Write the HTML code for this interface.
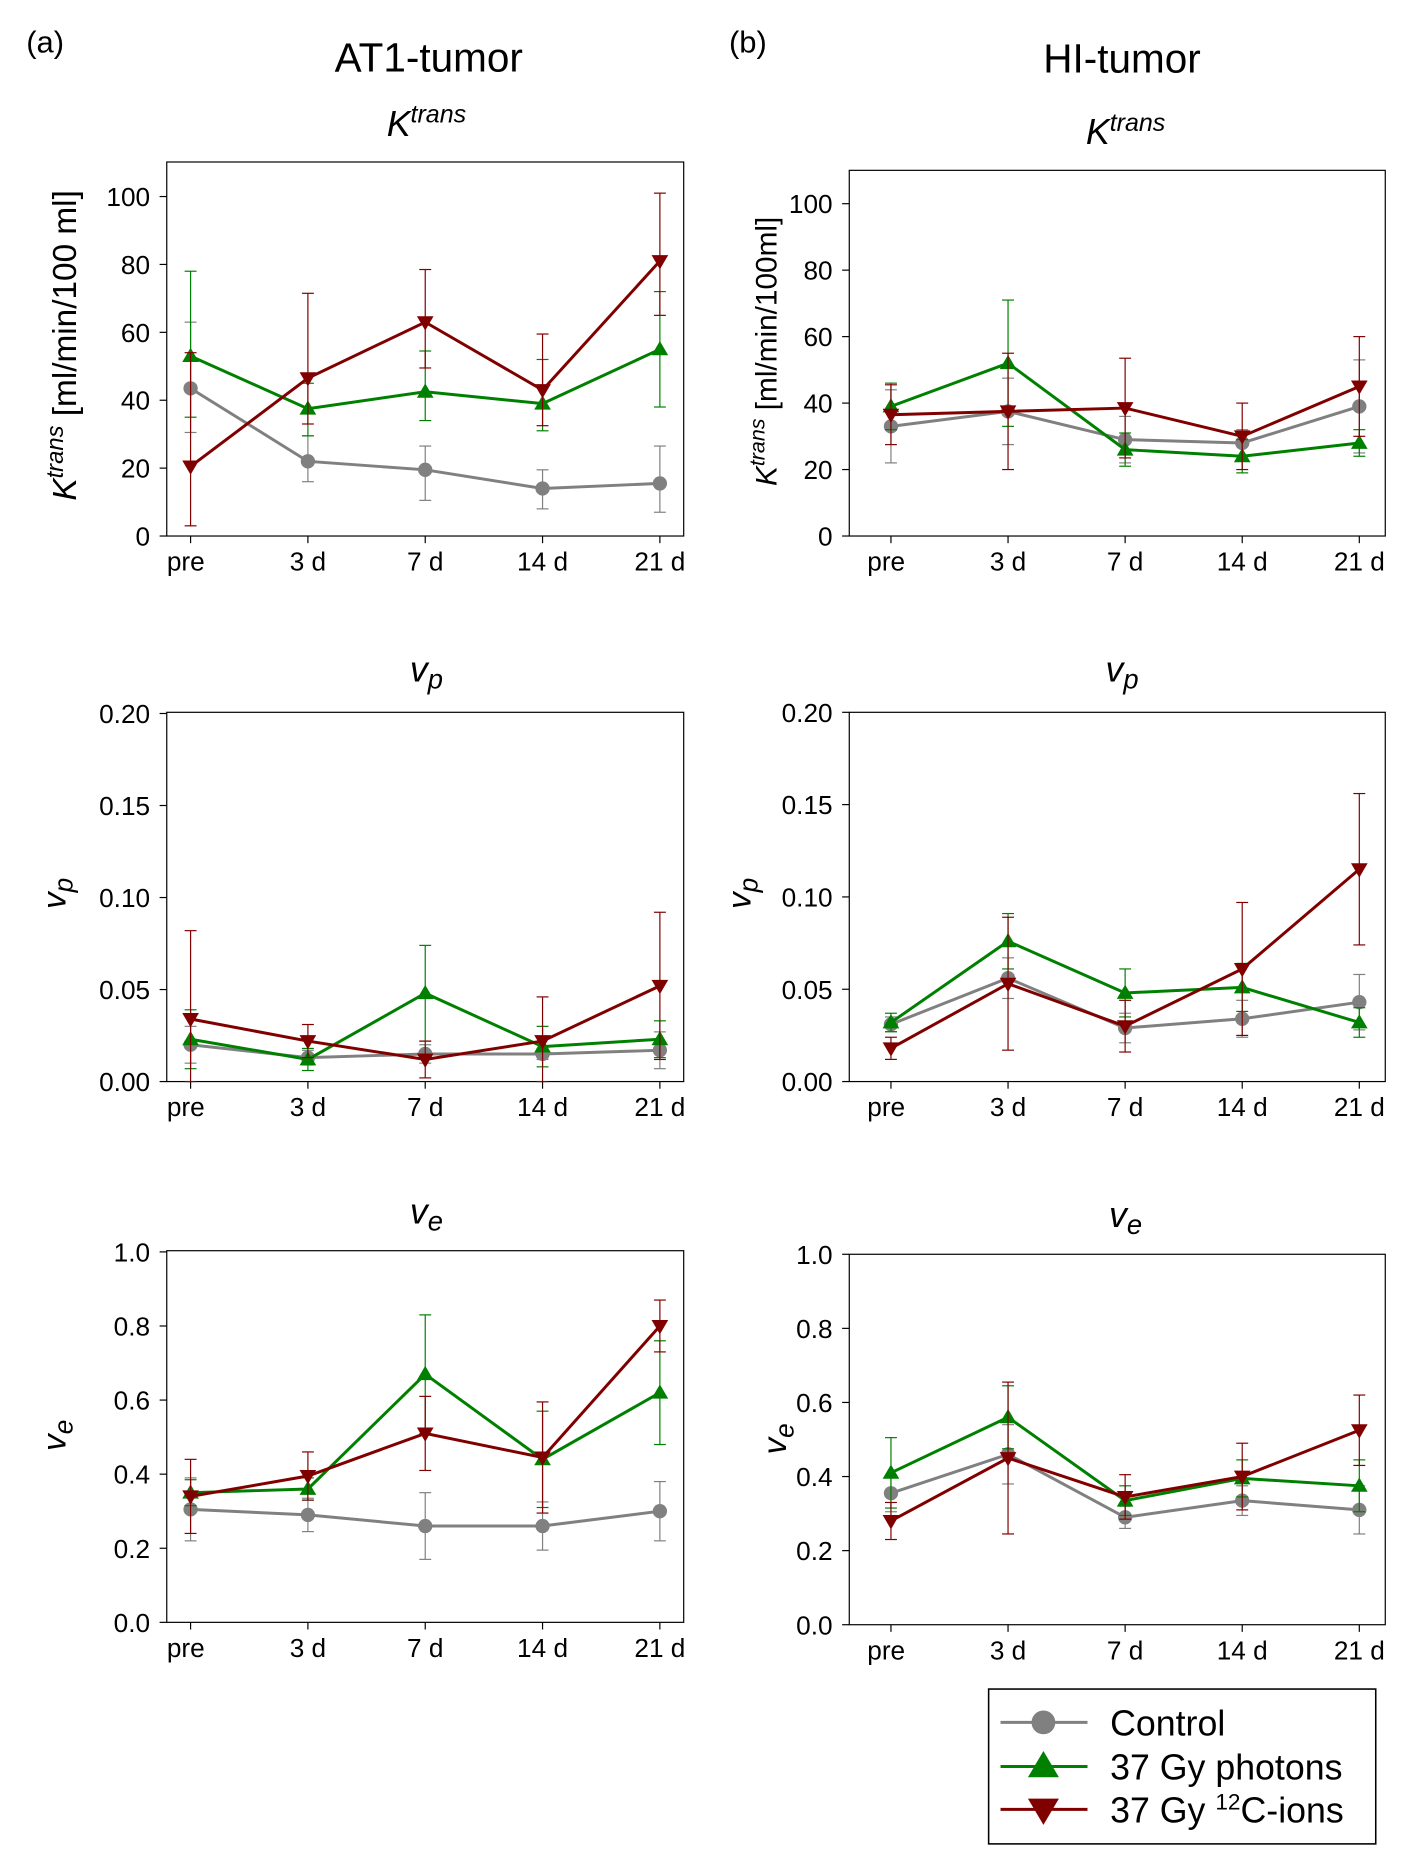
<!DOCTYPE html>
<html><head><meta charset="utf-8"><style>
html,body{margin:0;padding:0;background:#fff;}
svg{display:block;font-family:"Liberation Sans",Arial,sans-serif;}
</style></head><body>
<svg id="fig" width="1411" height="1862" viewBox="0 0 1184.6 1563.2" preserveAspectRatio="none" xmlns="http://www.w3.org/2000/svg">
<text x="22" y="44" font-size="26">(a)</text>
<text x="360" y="60" font-size="34" text-anchor="middle">AT1-tumor</text>
<text x="612" y="44" font-size="26">(b)</text>
<text x="942" y="61" font-size="34" text-anchor="middle">HI-tumor</text>
<g id="plots"></g>
<g>
<rect x="830" y="1418" width="325" height="130" fill="#fff" stroke="#000" stroke-width="1.3"/>
<line x1="840" y1="1446" x2="913" y2="1446" stroke="#808080" stroke-width="2.5"/>
<circle cx="876" cy="1446" r="10" fill="#808080"/>
<text x="932" y="1457" font-size="30">Control</text>
<line x1="840" y1="1483" x2="913" y2="1483" stroke="#008000" stroke-width="2.5"/>
<polygon points="876,1470 889,1492 863,1492" fill="#008000"/>
<text x="932" y="1494" font-size="30">37 Gy photons</text>
<line x1="840" y1="1519" x2="913" y2="1519" stroke="#800000" stroke-width="2.5"/>
<polygon points="863,1510 889,1510 876,1532" fill="#800000"/>
<text x="932" y="1530" font-size="30">37 Gy <tspan font-size="19" dy="-11">12</tspan><tspan dy="11">C-ions</tspan></text>
</g>
</svg>
<script>
const categories=["pre","3 d","7 d","14 d","21 d"];
const seriesNames=["control","photons","carbon"];
// AT1 Ktrans
const a1Control=[43.5,22,19.5,14,15.5], a1ControlLo=[30.5,16,10.5,8,7], a1ControlHi=[63,29.5,26.5,19.5,26.5];
const a1Photons=[53,37.5,42.5,39,55], a1PhotonsLo=[35,29.5,34,31,38], a1PhotonsHi=[78,45,54.5,52,72];
const a1Carbon=[20.5,46.5,63,43,81], a1CarbonLo=[3,33,49.5,32.5,65], a1CarbonHi=[54,71.5,78.5,59.5,101];
// HI Ktrans
const b1Control=[33,37.5,29,28,39], b1ControlErr=[11,10,7,4,14];
const b1Photons=[39,52,26,24,28], b1PhotonsErr=[7,19,5,5,4];
const b1Carbon=[36.5,37.5,38.5,30,45], b1CarbonErr=[9,17.5,15,10,15];
// AT1 vp
const a2Control=[0.020,0.013,0.015,0.015,0.017], a2ControlErr=[0.01,0.004,0.005,0.003,0.01];
const a2Photons=[0.023,0.012,0.048,0.019,0.023], a2PhotonsErr=[0.016,0.006,0.026,0.011,0.01];
const a2Carbon=[0.034,0.022,0.012,0.022,0.052], a2CarbonErr=[0.048,0.009,0.01,0.024,0.04];
// HI vp
const b2Control=[0.031,0.056,0.029,0.034,0.043], b2ControlErr=[0.004,0.011,0.008,0.01,0.015];
const b2Photons=[0.032,0.076,0.048,0.051,0.032], b2PhotonsErr=[0.005,0.015,0.013,0.013,0.008];
const b2Carbon=[0.018,0.053,0.030,0.061,0.115], b2CarbonErr=[0.006,0.036,0.014,0.036,0.041];
// AT1 ve
const a3Control=[0.305,0.29,0.26,0.26,0.30], a3ControlErr=[0.085,0.045,0.09,0.065,0.08];
const a3Photons=[0.35,0.36,0.67,0.44,0.62], a3PhotonsErr=[0.035,0.03,0.16,0.13,0.14];
const a3Carbon=[0.34,0.395,0.51,0.445,0.80], a3CarbonErr=[0.10,0.065,0.10,0.15,0.07];
// HI ve
const b3Control=[0.355,0.46,0.29,0.335,0.31], b3ControlErr=[0.05,0.08,0.03,0.04,0.065];
const b3Photons=[0.41,0.56,0.335,0.395,0.375], b3PhotonsErr=[0.095,0.085,0.04,0.05,0.07];
const b3Carbon=[0.28,0.45,0.345,0.40,0.525], b3CarbonErr=[0.05,0.205,0.06,0.09,0.095];
const ktTicks=["0","20","40","60","80","100"], vpTicks=["0.00","0.05","0.10","0.15","0.20"], veTicks=["0.0","0.2","0.4","0.6","0.8","1.0"];

const NS="http://www.w3.org/2000/svg";
const root=document.getElementById('plots');
function mk(tag,attrs,parent){const e=document.createElementNS(NS,tag);for(const k in attrs)e.setAttribute(k,attrs[k]);(parent||root).appendChild(e);return e;}
function lohi(v,e){return [v.map((x,i)=>x-e[i]),v.map((x,i)=>x+e[i])];}
const colors={control:"#808080",photons:"#008000",carbon:"#800000"};

function panel(p){
  const g=mk('g',{});
  
  
  const yS=v=>p.y0-(Math.max(v,p.min)-p.min)/(p.max-p.min)*(p.y0-p.y1);
  const xS=i=>p.xs+i*p.dx;
  const box=mk('rect',{x:p.L,y:p.T,width:p.R-p.L,height:p.y0-p.T,fill:'none',stroke:'#000','stroke-width':1},g);
  
  
  p.ticks.forEach((t,i)=>{
    const v=p.min+i*(p.max-p.min)/(p.ticks.length-1);
    const y=yS(v);
    mk('line',{x1:p.L-6,y1:y,x2:p.L,y2:y,stroke:'#000','stroke-width':1},g);
    const tx=mk('text',{x:p.L-14,y:y+8,'font-size':22,'text-anchor':'end'},g);
    tx.textContent=t;
    
    
  });
  categories.forEach((c,i)=>{
    const x=xS(i);
    mk('line',{x1:x,y1:p.y0,x2:x,y2:p.y0+6,stroke:'#000','stroke-width':1},g);
    const tx=mk('text',{x:x-(i===0?4:0),y:p.y0+29,'font-size':22,'text-anchor':'middle'},g);
    tx.textContent=c;
    
    
  });
  const tt=mk('text',{x:p.tx,y:p.ty,'font-size':30,'text-anchor':'middle','font-style':'italic'},g);
  tt.innerHTML=p.title;
  
  
  const yt=mk('text',{x:0,y:0,'font-size':p.ytSize||28,'text-anchor':'middle',transform:`translate(${p.ytx},${p.yty}) rotate(-90)`},g);
  yt.innerHTML=p.ytitle;
  
  
  p.series.forEach(s=>{
    const col=colors[s.k];
    const sg=mk('g',{},g);
    
    
    s.v.forEach((v,i)=>{
      const x=xS(i),a=yS(s.lo[i]),b=yS(s.hi[i]);
      mk('line',{x1:x,y1:a,x2:x,y2:b,stroke:col,'stroke-width':1},sg);
      mk('line',{x1:x-5,y1:a,x2:x+5,y2:a,stroke:col,'stroke-width':1},sg);
      mk('line',{x1:x-5,y1:b,x2:x+5,y2:b,stroke:col,'stroke-width':1},sg);
    });
    const ln=mk('polyline',{points:s.v.map((v,i)=>xS(i)+','+yS(v)).join(' '),fill:'none',stroke:col,'stroke-width':2.5},sg);
    
    
    s.v.forEach((v,i)=>{
      const x=xS(i),y=yS(v);let m;
      if(s.k==='control') m=mk('circle',{cx:x,cy:y,r:6,fill:col},sg);
      else if(s.k==='photons') m=mk('polygon',{points:`${x},${y-7} ${x+7},${y+5} ${x-7},${y+5}`,fill:col},sg);
      else m=mk('polygon',{points:`${x-7},${y-5} ${x+7},${y-5} ${x},${y+7}`,fill:col},sg);
      
      
    });
  });
}
const kt='K<tspan font-size="21" dy="-11">trans</tspan>';
const A={L:140,R:574,xs:160,dx:98.5}, B={L:713,R:1163,xs:748,dx:98.3};
function S(k,v,lo,hi){return {k,v,lo,hi};}
panel(Object.assign({},A,{name:'at1-ktrans-chart',T:136,y0:450,y1:165,min:0,max:100,ticks:ktTicks,title:kt,tx:358,ty:114,
  ytitle:'<tspan font-style="italic">K<tspan font-size="20" dy="-11">trans</tspan></tspan><tspan dy="11"> [ml/min/100 ml]</tspan>',ytx:64,yty:290,
  series:[S('control',a1Control,a1ControlLo,a1ControlHi),S('photons',a1Photons,a1PhotonsLo,a1PhotonsHi),S('carbon',a1Carbon,a1CarbonLo,a1CarbonHi)]}));
panel(Object.assign({},B,{name:'hi-ktrans-chart',T:143,y0:450,y1:171,min:0,max:100,ticks:ktTicks,title:kt,tx:945,ty:121,ytSize:25,
  ytitle:'<tspan font-style="italic">K<tspan font-size="18" dy="-10">trans</tspan></tspan><tspan dy="10"> [ml/min/100ml]</tspan>',ytx:652,yty:295,
  series:[S('control',b1Control,...lohi(b1Control,b1ControlErr)),S('photons',b1Photons,...lohi(b1Photons,b1PhotonsErr)),S('carbon',b1Carbon,...lohi(b1Carbon,b1CarbonErr))]}));
panel(Object.assign({},A,{name:'at1-vp-chart',T:598,y0:908,y1:599,min:0,max:0.2,ticks:vpTicks,title:'v<tspan font-size="23" dy="6">p</tspan>',tx:358,ty:572,
  ytitle:'<tspan font-style="italic">v<tspan font-size="22" dy="6">p</tspan></tspan>',ytx:55,yty:750,
  series:[S('control',a2Control,...lohi(a2Control,a2ControlErr)),S('photons',a2Photons,...lohi(a2Photons,a2PhotonsErr)),S('carbon',a2Carbon,...lohi(a2Carbon,a2CarbonErr))]}));
panel(Object.assign({},B,{name:'hi-vp-chart',T:598,y0:908,y1:598,min:0,max:0.2,ticks:vpTicks,title:'v<tspan font-size="23" dy="6">p</tspan>',tx:942,ty:572,
  ytitle:'<tspan font-style="italic">v<tspan font-size="22" dy="6">p</tspan></tspan>',ytx:630,yty:750,
  series:[S('control',b2Control,...lohi(b2Control,b2ControlErr)),S('photons',b2Photons,...lohi(b2Photons,b2PhotonsErr)),S('carbon',b2Carbon,...lohi(b2Carbon,b2CarbonErr))]}));
panel(Object.assign({},A,{name:'at1-ve-chart',T:1050,y0:1362,y1:1051,min:0,max:1,ticks:veTicks,title:'v<tspan font-size="23" dy="6">e</tspan>',tx:358,ty:1027,
  ytitle:'<tspan font-style="italic">v<tspan font-size="22" dy="6">e</tspan></tspan>',ytx:55,yty:1205,
  series:[S('control',a3Control,...lohi(a3Control,a3ControlErr)),S('photons',a3Photons,...lohi(a3Photons,a3PhotonsErr)),S('carbon',a3Carbon,...lohi(a3Carbon,a3CarbonErr))]}));
panel(Object.assign({},B,{name:'hi-ve-chart',T:1053,y0:1364,y1:1053,min:0,max:1,ticks:veTicks,title:'v<tspan font-size="23" dy="6">e</tspan>',tx:945,ty:1030,
  ytitle:'<tspan font-style="italic">v<tspan font-size="22" dy="6">e</tspan></tspan>',ytx:660,yty:1208,
  series:[S('control',b3Control,...lohi(b3Control,b3ControlErr)),S('photons',b3Photons,...lohi(b3Photons,b3PhotonsErr)),S('carbon',b3Carbon,...lohi(b3Carbon,b3CarbonErr))]}));
</script>
</body></html>
